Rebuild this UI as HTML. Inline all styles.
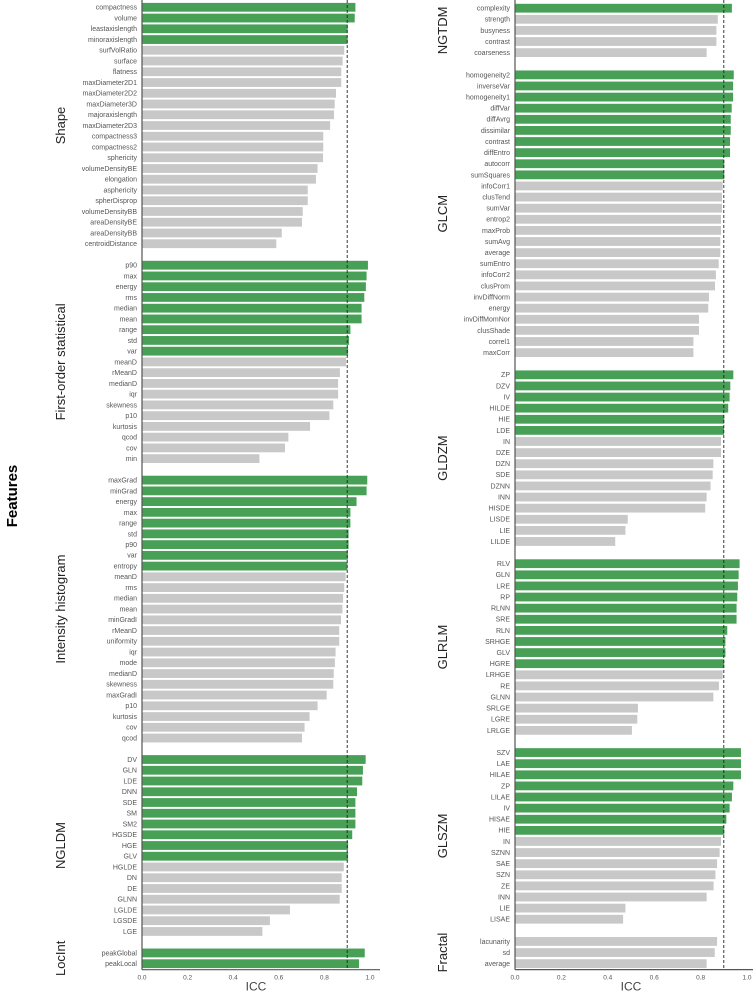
<!DOCTYPE html>
<html><head><meta charset="utf-8"><style>
html,body{margin:0;padding:0;background:#fff;width:755px;height:993px;overflow:hidden}
svg{display:block;font-family:"Liberation Sans",sans-serif}
</style></head><body>
<svg id="chart" width="755" height="993" viewBox="0 0 755 993" xmlns="http://www.w3.org/2000/svg">
<text x="0" y="0" transform="translate(17,496) rotate(-90)" text-anchor="middle" font-size="15" font-weight="bold" fill="#000">Features</text>
</svg>
<script>
const leftGroups = ["Shape","First-order statistical","Intensity histogram","NGLDM","LocInt"];
const leftLabels = [
["compactness","volume","leastaxislength","minoraxislength","surfVolRatio","surface","flatness","maxDiameter2D1","maxDiameter2D2","maxDiameter3D","majoraxislength","maxDiameter2D3","compactness3","compactness2","sphericity","volumeDensityBE","elongation","asphericity","spherDisprop","volumeDensityBB","areaDensityBE","areaDensityBB","centroidDistance"],
["p90","max","energy","rms","median","mean","range","std","var","meanD","rMeanD","medianD","iqr","skewness","p10","kurtosis","qcod","cov","min"],
["maxGrad","minGrad","energy","max","range","std","p90","var","entropy","meanD","rms","median","mean","minGradI","rMeanD","uniformity","iqr","mode","medianD","skewness","maxGradI","p10","kurtosis","cov","qcod"],
["DV","GLN","LDE","DNN","SDE","SM","SM2","HGSDE","HGE","GLV","HGLDE","DN","DE","GLNN","LGLDE","LGSDE","LGE"],
["peakGlobal","peakLocal"]];
const leftValues = [
[0.936,0.933,0.902,0.902,0.887,0.880,0.874,0.874,0.851,0.845,0.842,0.825,0.795,0.795,0.794,0.770,0.763,0.727,0.727,0.705,0.702,0.613,0.589],
[0.991,0.985,0.982,0.975,0.963,0.963,0.914,0.908,0.904,0.895,0.868,0.860,0.860,0.839,0.822,0.737,0.642,0.627,0.515],
[0.988,0.985,0.941,0.914,0.914,0.906,0.906,0.903,0.901,0.893,0.887,0.882,0.879,0.873,0.865,0.865,0.849,0.846,0.841,0.839,0.810,0.770,0.735,0.713,0.702],
[0.981,0.969,0.966,0.943,0.936,0.936,0.936,0.922,0.904,0.904,0.885,0.876,0.876,0.867,0.649,0.561,0.528],
[0.977,0.952]];
const rightGroups = ["NGTDM","GLCM","GLDZM","GLRLM","GLSZM","Fractal"];
const rightLabels = [
["complexity","strength","busyness","contrast","coarseness"],
["homogeneity2","inverseVar","homogeneity1","diffVar","diffAvrg","dissimilar","contrast","diffEntro","autocorr","sumSquares","infoCorr1","clusTend","sumVar","entrop2","maxProb","sumAvg","average","sumEntro","infoCorr2","clusProm","invDiffNorm","energy","invDiffMomNor","clusShade","correl1","maxCorr"],
["ZP","DZV","IV","HILDE","HIE","LDE","IN","DZE","DZN","SDE","DZNN","INN","HISDE","LISDE","LIE","LILDE"],
["RLV","GLN","LRE","RP","RLNN","SRE","RLN","SRHGE","GLV","HGRE","LRHGE","RE","GLNN","SRLGE","LGRE","LRLGE"],
["SZV","LAE","HILAE","ZP","LILAE","IV","HISAE","HIE","IN","SZNN","SAE","SZN","ZE","INN","LIE","LISAE"],
["lacunarity","sd","average"]];
const rightValues = [
[0.935,0.874,0.868,0.868,0.826],
[0.943,0.940,0.940,0.934,0.930,0.930,0.927,0.927,0.902,0.902,0.895,0.892,0.892,0.888,0.888,0.885,0.885,0.878,0.866,0.862,0.836,0.833,0.793,0.793,0.769,0.769],
[0.941,0.928,0.925,0.919,0.902,0.901,0.888,0.888,0.855,0.852,0.843,0.826,0.820,0.486,0.476,0.432],
[0.968,0.964,0.961,0.958,0.955,0.955,0.915,0.907,0.907,0.902,0.895,0.879,0.855,0.530,0.527,0.504],
[0.974,0.974,0.974,0.941,0.935,0.925,0.911,0.902,0.888,0.882,0.871,0.864,0.856,0.826,0.476,0.466],
[0.871,0.861,0.826]];
const ticks = [0.0,0.2,0.4,0.6,0.8,1.0];
const threshold = 0.9;

const NS = "http://www.w3.org/2000/svg";
const svg = document.getElementById("chart");
function mk(tag, attrs, parent){
  const e = document.createElementNS(NS, tag);
  for (const k in attrs) e.setAttribute(k, attrs[k]);
  (parent||svg).appendChild(e);
  return e;
}
function panel(name, groups, labels, values, x0, pxPerUnit, y0, step, groupX, axisEndX){
  const xs = v => x0 + v * pxPerUnit;
  const g = mk("g", {});
  
  
  let slot = 0;
  groups.forEach((gn, gi) => {
    const first = slot;
    labels[gi].forEach((lab, i) => {
      const v = values[gi][i];
      const cy = y0 + slot * step;
      const r = mk("rect", {x: xs(0), y: cy - 4.4, width: xs(v) - xs(0), height: 8.8, fill: v >= threshold ? "#48a057" : "#c8c8c8"}, g);
      
      
      const t = mk("text", {x: xs(0) - 5, y: cy + 2.4, "text-anchor": "end", "font-size": "7", fill: "#555"}, g);
      t.textContent = lab;
      
      
      slot++;
    });
    const mid = y0 + (first + slot - 1) / 2 * step;
    const gt = mk("text", {transform: "translate(" + groupX + "," + mid + ") rotate(-90)", "text-anchor": "middle", "font-size": "13", fill: "#222"}, g);
    gt.textContent = gn;
    
    
    slot++;
  });
  const yEnd = y0 + (slot - 2) * step + 6;
  const ax = mk("line", {x1: xs(0), x2: xs(0), y1: 0, y2: yEnd, stroke: "#555", "stroke-width": 1.2}, g);
  
  
  const bx = mk("line", {x1: xs(0), x2: axisEndX, y1: yEnd, y2: yEnd, stroke: "#555", "stroke-width": 1.2}, g);
  
  
  const th = mk("line", {x1: xs(threshold), x2: xs(threshold), y1: 0, y2: yEnd, stroke: "#222", "stroke-width": 0.9, "stroke-dasharray": "3,2"}, g);
  
  
  ticks.forEach(tv => {
    const tt = mk("text", {x: xs(tv), y: yEnd + 10, "text-anchor": "middle", "font-size": "6.5", fill: "#555"}, g);
    tt.textContent = tv.toFixed(1);
    
    
  });
  const xt = mk("text", {x: xs(0.5), y: yEnd + 21, "text-anchor": "middle", "font-size": "12", fill: "#444"}, g);
  xt.textContent = "ICC";
  
  
}
panel("left", leftGroups, leftLabels, leftValues, 142, 228, 7.3, 10.746, 65, 380);
panel("right", rightGroups, rightLabels, rightValues, 515, 232, 8.2, 11.11, 447, 753);
</script>
</body></html>
